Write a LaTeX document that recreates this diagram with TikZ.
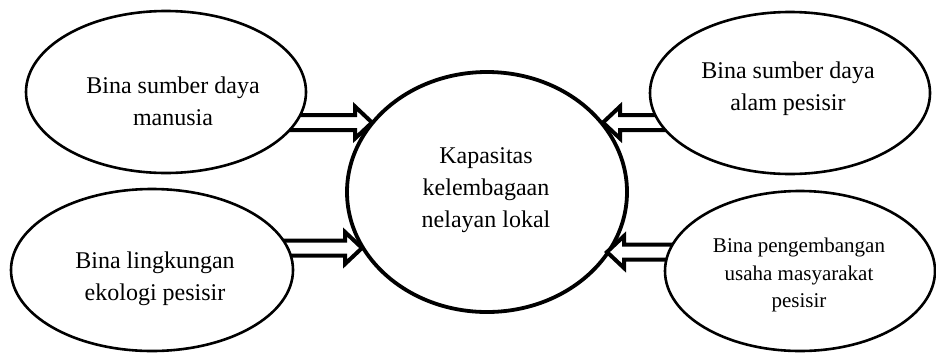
\documentclass[tikz,border=0pt]{standalone}
\usepackage{fontspec}
\setmainfont{Liberation Serif}
\usetikzlibrary{shapes.geometric,calc}
\tikzset{
  side/.style={ellipse, draw, line width=2.6pt, fill=white, inner sep=0pt},
  hub/.style={ellipse, draw, line width=3.8pt, inner sep=0pt},
  lbl/.style={align=center, font=\fontsize{24}{32}\selectfont, inner sep=0pt},
  lblsmall/.style={align=center, font=\fontsize{21}{27.5}\selectfont, inner sep=0pt},
  blockarrow/.style={draw, line width=4pt, fill=white, line join=miter,
    to path={let \p1=(\tikztostart), \p2=(\tikztotarget),
      \p3=($(\tikztotarget)!17pt!(\tikztostart)$) in
      (\x1,\y1+7.5pt) -- (\x3,\y1+7.5pt) -- (\x3,\y1+16pt) -- (\x2,\y2)
      -- (\x3,\y1-16pt) -- (\x3,\y1-7.5pt) -- (\x1,\y1-7.5pt) -- cycle}}
}
\begin{document}
\begin{tikzpicture}[x=1pt,y=-1pt]
\useasboundingbox (0,0) rectangle (936,354);
% hub
\node[hub, minimum width=280pt, minimum height=240pt] (hub) at (487,192) {};
% arrow end points
\coordinate (a1s) at (288,122.5);
\coordinate (a1e) at (372,122.5);
\coordinate (a2s) at (278,248);
\coordinate (a2e) at (362,248);
\coordinate (a3s) at (668,122.5);
\coordinate (a3e) at (603,122.5);
\coordinate (a4s) at (678,252);
\coordinate (a4e) at (607,252);
\draw[blockarrow] (a1s) to (a1e);
\draw[blockarrow] (a2s) to (a2e);
\draw[blockarrow] (a3s) to (a3e);
\draw[blockarrow] (a4s) to (a4e);
% side ellipses
\node[side, minimum width=280pt, minimum height=162pt] (tl) at (166,92) {};
\node[side, minimum width=282pt, minimum height=162pt] (bl) at (152,270) {};
\node[side, minimum width=280pt, minimum height=162pt] (tr) at (790,93) {};
\node[side, minimum width=270pt, minimum height=160pt] (br) at (800,271) {};
% labels
\node[lbl] (tltext) at (173,101) {Bina sumber daya\\manusia};
\node[lbl] (bltext) at (155,279) {Bina lingkungan\\ekologi pesisir};
\node[lbl] (hubtext) at (486,190) {Kapasitas\\kelembagaan\\nelayan lokal};
\node[lbl] (trtext) at (788,89) {Bina sumber daya\\alam pesisir};
\node[lblsmall] (brtext) at (799,275) {Bina pengembangan\\usaha masyarakat\\pesisir};
\end{tikzpicture}
\end{document}
